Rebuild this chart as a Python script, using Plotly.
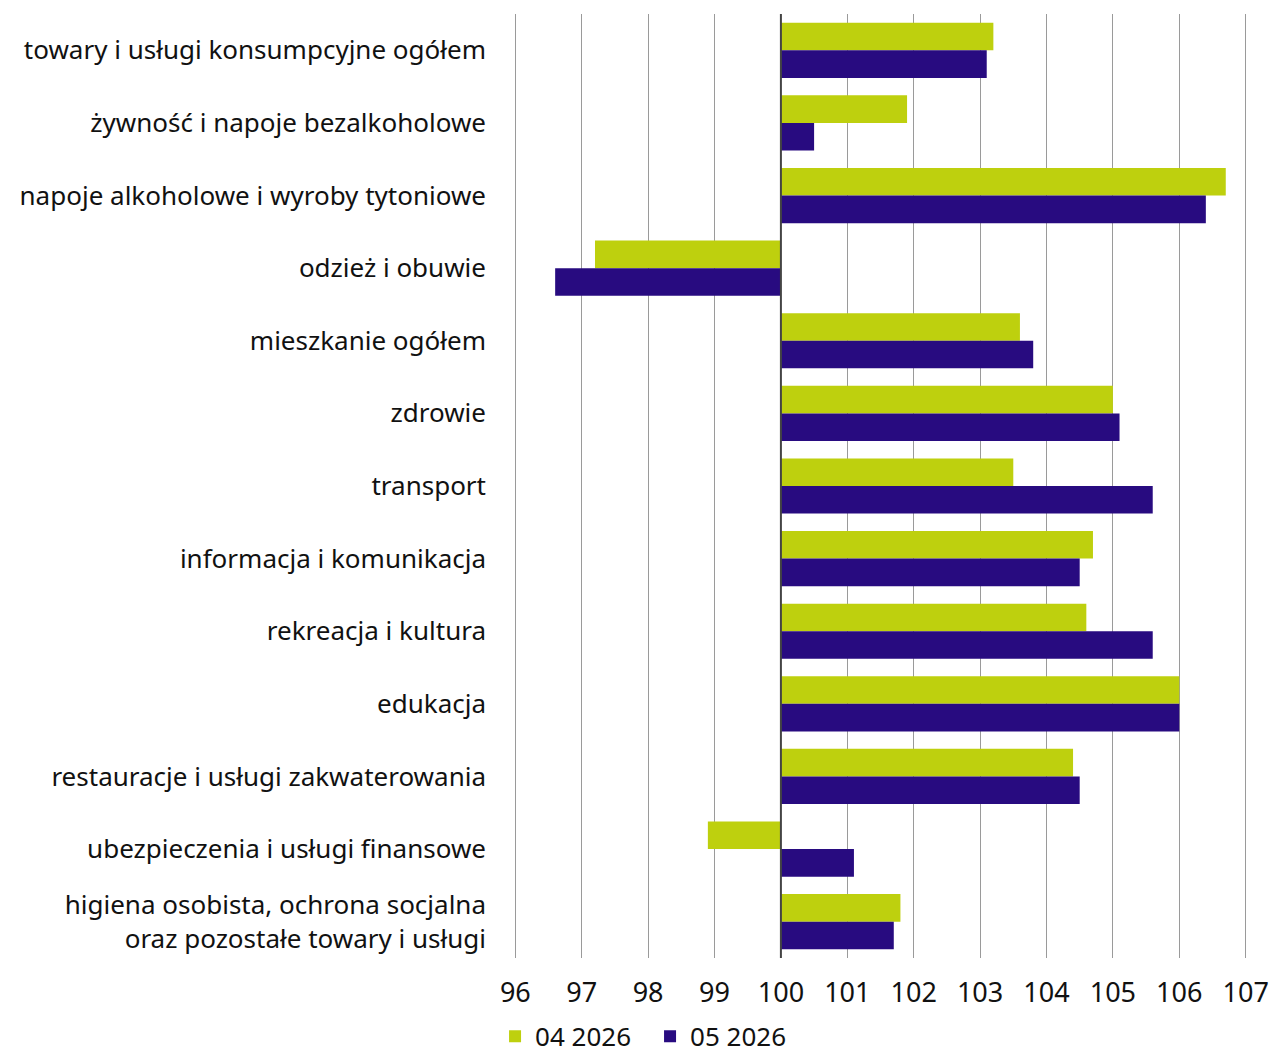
import plotly.graph_objects as go

categories = [
    "towary i usługi konsumpcyjne ogółem",
    "żywność i napoje bezalkoholowe",
    "napoje alkoholowe i wyroby tytoniowe",
    "odzież i obuwie",
    "mieszkanie ogółem",
    "zdrowie",
    "transport",
    "informacja i komunikacja",
    "rekreacja i kultura",
    "edukacja",
    "restauracje i usługi zakwaterowania",
    "ubezpieczenia i usługi finansowe",
    "higiena osobista, ochrona socjalna<br>oraz pozostałe towary i usługi",
]
series_04_2026 = [103.2, 101.9, 106.7, 97.2, 103.6, 105.0, 103.5, 104.7, 104.6, 106.0, 104.4, 98.9, 101.8]
series_05_2026 = [103.1, 100.5, 106.4, 96.6, 103.8, 105.1, 105.6, 104.5, 105.6, 106.0, 104.5, 101.1, 101.7]
series_names = ["04 2026", "05 2026"]
BASE = 100
tick_values = list(range(96, 108))

GREEN = "#BED00E"
PURPLE = "#280B80"
FONT = "Noto Sans"

fig = go.Figure()
for name, vals, col in [(series_names[0], series_04_2026, GREEN),
                        (series_names[1], series_05_2026, PURPLE)]:
    fig.add_trace(go.Bar(
        y=categories,
        x=[v - BASE for v in vals],
        base=BASE,
        orientation="h",
        name=name,
        marker=dict(color=col, line=dict(width=0)),
    ))

fig.add_shape(type="line", xref="x", yref="paper", x0=BASE, x1=BASE, y0=0, y1=1,
              line=dict(color="#444444", width=2), layer="above")

fig.update_layout(
    width=1271, height=1057,
    barmode="group",
    bargap=0.24,
    bargroupgap=0,
    plot_bgcolor="white",
    paper_bgcolor="white",
    margin=dict(l=512, r=22, t=14, b=99, autoexpand=False),
    font=dict(family=FONT, size=26, color="#111111"),
    xaxis=dict(
        range=[95.95, 107.05],
        tickvals=tick_values,
        showgrid=True, gridcolor="#9a9a9a", gridwidth=1,
        zeroline=False, showline=False,
        ticks="", ticklabelstandoff=16,
        tickfont=dict(size=27),
    ),
    yaxis=dict(
        autorange="reversed",
        showgrid=False, zeroline=False, showline=False,
        ticks="", ticklabelstandoff=25,
        tickfont=dict(size=26),
    ),
    legend=dict(
        orientation="h",
        x=-0.023, xanchor="left",
        y=-0.083, yanchor="middle",
        font=dict(size=26),
        itemwidth=30,
        entrywidth=110, entrywidthmode="pixels",
        tracegroupgap=0,
    ),
    showlegend=True,
)

fig.write_html(
    "out.html",
    config={"displayModeBar": False},
    post_script="document.body.style.margin='0';document.body.style.overflow='hidden';",
)
